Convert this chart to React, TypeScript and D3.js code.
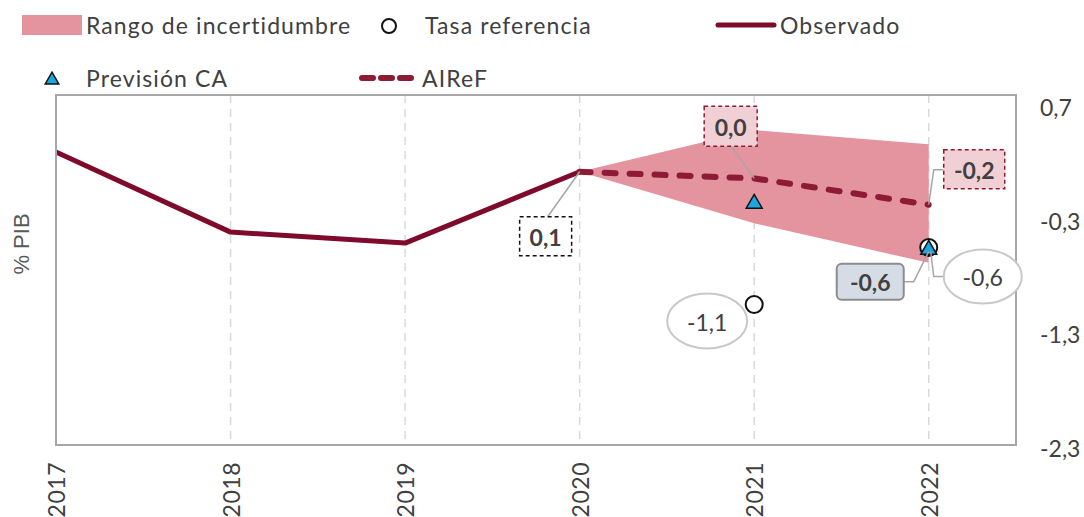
import React from "react";
import * as d3 from "d3";

const years = [2017, 2018, 2019, 2020, 2021, 2022];
const observedYears = [2017, 2018, 2019, 2020];
const observedValues = [0.28, -0.45, -0.55, 0.1];
const airefYears = [2020, 2021, 2022];
const airefValues = [0.1, 0.04, -0.2];
const bandYears = [2020, 2021, 2022];
const bandUpper = [0.1, 0.48, 0.35];
const bandLower = [0.1, -0.37, -0.73];
const caYears = [2021, 2022];
const caValues = [-0.19, -0.61];
const refYears = [2021, 2022];
const refValues = [-1.11, -0.59];
const yTicks = [0.7, -0.3, -1.3, -2.3];
const fmt = (v: number) => v.toFixed(1).replace(".", ",");

const FONT = "Lato, 'Open Sans', sans-serif";
const TXT = "#404040";
const MAROON = "#7f0b2c";
const DASHRED = "#8e1b36";
const BAND = "#e3949e";
const BLUE = "#1aa6df";

export default function App() {
  const W = 1084, H = 517;
  const x = d3.scaleLinear().domain([2017, 2022.5]).range([56, 1016]);
  const y = d3.scaleLinear().domain([-2.4, 0.8]).range([446, 95]);
  const yAxis = d3.scaleLinear().domain([-2.3, 0.7]).range([448, 107]);
  const line = d3.line<[number, number]>().x(d => x(d[0])).y(d => y(d[1]));
  const area = d3
    .area<number>()
    .x((_, i) => x(bandYears[i]))
    .y0((_, i) => y(bandLower[i]))
    .y1((_, i) => y(bandUpper[i]));

  const obs = observedYears.map((yr, i) => [yr, observedValues[i]] as [number, number]);
  const aref = airefYears.map((yr, i) => [yr, airefValues[i]] as [number, number]);

  const tri = d3.symbol().type(d3.symbolTriangle).size(110)() as string;

  const p2020 = [x(2020), y(observedValues[3])];
  const pA21 = [x(2021), y(airefValues[1])];
  const pA22 = [x(2022), y(airefValues[2])];
  const pC22 = [x(2022), y(caValues[1])];
  const pR21 = [x(2021), y(refValues[0])];
  const pR22 = [x(2022), y(refValues[1])];

  const labelText = { fontFamily: FONT, fontSize: 23, fill: TXT } as const;

  return (
    <svg width={W} height={H} style={{ position: "absolute", left: 0, top: 0, background: "#fff" }}>
      {years.slice(1).map(yr => (
        <line key={yr} x1={x(yr)} x2={x(yr)} y1={95} y2={445} stroke="#d9d9d9" strokeWidth={1.5} strokeDasharray="8,6" />
      ))}
      <path d={area(bandYears) as string} fill={BAND} />
      <path d={line(obs) as string} fill="none" stroke={MAROON} strokeWidth={5} strokeLinejoin="round" />
      <path d={line(aref) as string} fill="none" stroke={DASHRED} strokeWidth={6} strokeDasharray="11,14" strokeLinecap="round" />
      <rect x={56} y={95} width={1016 - 56} height={445 - 95} fill="none" stroke="#a6a6a6" strokeWidth={2} />

      {refYears.map((yr, i) => (
        <circle key={yr} cx={x(yr)} cy={y(refValues[i])} r={8.5} fill="#fff" stroke="#111" strokeWidth={2} />
      ))}
      {caYears.map((yr, i) => (
        <path key={yr} d={tri} transform={`translate(${x(yr)},${y(caValues[i])})`} fill={BLUE} stroke="#111" strokeWidth={1.5} />
      ))}

      <g stroke="#a6a6a6" strokeWidth={1.5} fill="none">
        <polyline points={`${p2020[0] - 32},${p2020[1] + 45} ${p2020[0]},${p2020[1]}`} />
        <polyline points={`${pA21[0] - 23},${pA21[1] - 32} ${pA21[0]},${pA21[1]}`} />
        <polyline points={`${pA22[0] + 15},${pA22[1] - 35} ${pA22[0] + 5},${pA22[1] - 35} ${pA22[0]},${pA22[1]}`} />
        <polyline points={`${pC22[0] - 25},${pC22[1] + 32} ${pC22[0] - 15},${pC22[1] + 32} ${pC22[0]},${pC22[1] + 2}`} />
        <polyline points={`${pR22[0] + 15},${pR22[1] + 29} ${pR22[0] + 5},${pR22[1] + 29} ${pR22[0] + 2},${pR22[1] + 4}`} />
      </g>

      <g>
        <rect x={p2020[0] - 60} y={p2020[1] + 45} width={52} height={39} fill="#fff" stroke="#111" strokeWidth={1.5} strokeDasharray="4,3" />
        <text x={p2020[0] - 34} y={p2020[1] + 65} textAnchor="middle" dominantBaseline="central" {...labelText} fontWeight="bold">{fmt(observedValues[3])}</text>

        <rect x={pA21[0] - 50} y={pA21[1] - 72} width={53} height={40} fill="#f0d0d4" stroke={DASHRED} strokeWidth={1.5} strokeDasharray="4,3" />
        <text x={pA21[0] - 23.5} y={pA21[1] - 51} textAnchor="middle" dominantBaseline="central" {...labelText} fontWeight="bold">{fmt(Math.round(airefValues[1] * 10) / 10)}</text>

        <rect x={pA22[0] + 15} y={pA22[1] - 55} width={61} height={39} fill="#f0d0d4" stroke={DASHRED} strokeWidth={1.5} strokeDasharray="4,3" />
        <text x={pA22[0] + 45.5} y={pA22[1] - 35} textAnchor="middle" dominantBaseline="central" {...labelText} fontWeight="bold">{fmt(airefValues[2])}</text>

        <rect x={pC22[0] - 92} y={pC22[1] + 14} width={67} height={36} rx={5} fill="#d6dce5" stroke="#8c8c8c" strokeWidth={2} />
        <text x={pC22[0] - 58.5} y={pC22[1] + 32.5} textAnchor="middle" dominantBaseline="central" {...labelText} fontWeight="bold">{fmt(caValues[1])}</text>

        <ellipse cx={pR22[0] + 54} cy={pR22[1] + 29} rx={39} ry={27} fill="#fff" stroke="#c8c8c8" strokeWidth={2} />
        <text x={pR22[0] + 54} y={pR22[1] + 30} textAnchor="middle" dominantBaseline="central" {...labelText}>{fmt(refValues[1])}</text>

        <ellipse cx={pR21[0] - 47} cy={pR21[1] + 16.5} rx={40} ry={27.5} fill="#fff" stroke="#c8c8c8" strokeWidth={2} />
        <text x={pR21[0] - 47} y={pR21[1] + 17.5} textAnchor="middle" dominantBaseline="central" {...labelText}>{fmt(refValues[0])}</text>
      </g>

      {yTicks.map(t => (
        <text key={t} x={1040} y={yAxis(t)} dominantBaseline="central" {...labelText} fontSize={23}>{fmt(t)}</text>
      ))}
      {years.map(yr => (
        <text key={yr} transform={`translate(${x(yr)},462) rotate(-90)`} textAnchor="end" dominantBaseline="central" {...labelText} fontSize={23} letterSpacing={0.5}>{yr}</text>
      ))}
      <text transform="translate(21,244) rotate(-90)" textAnchor="middle" dominantBaseline="central" fontFamily="'Liberation Sans', Arial, sans-serif" fontSize={22} fill="#595959">% PIB</text>

      <g {...labelText} fontSize={23} letterSpacing={1.1}>
        <rect x={22} y={15} width={60} height={20} fill={BAND} />
        <text x={86} y={25} dominantBaseline="central">Rango de incertidumbre</text>
        <circle cx={389} cy={26} r={7} fill="#fff" stroke="#111" strokeWidth={2} />
        <text x={425} y={25} dominantBaseline="central">Tasa referencia</text>
        <line x1={718} x2={774} y1={25} y2={25} stroke={MAROON} strokeWidth={5} strokeLinecap="round" />
        <text x={780} y={25} dominantBaseline="central">Observado</text>
        <path d={d3.symbol().type(d3.symbolTriangle).size(80)() as string} transform="translate(52,80)" fill={BLUE} stroke="#111" strokeWidth={1.5} />
        <text x={86} y={78} dominantBaseline="central">Previsión CA</text>
        <line x1={362} x2={416} y1={78} y2={78} stroke={DASHRED} strokeWidth={6} strokeDasharray="11,8" strokeLinecap="round" />
        <text x={422} y={78} dominantBaseline="central">AIReF</text>
      </g>
    </svg>
  );
}
